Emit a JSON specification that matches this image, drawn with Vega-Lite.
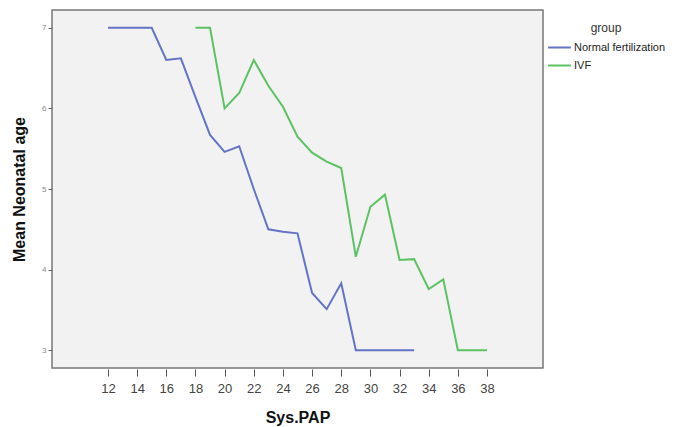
{
  "$schema": "https://vega.github.io/schema/vega-lite/v6.json",
  "autosize": "none",
  "width": 491,
  "height": 358,
  "padding": {"left": 52, "top": 10, "right": 145, "bottom": 59},
  "background": "white",
  "config": {
    "view": {"fill": "#F2F2F2", "stroke": "#777777", "strokeWidth": 1.5},
    "font": "Liberation Sans"
  },
  "data": {
    "values": [
      {"pap": 12, "age": 7.0, "group": "Normal fertilization"},
      {"pap": 13, "age": 7.0, "group": "Normal fertilization"},
      {"pap": 14, "age": 7.0, "group": "Normal fertilization"},
      {"pap": 15, "age": 7.0, "group": "Normal fertilization"},
      {"pap": 16, "age": 6.6, "group": "Normal fertilization"},
      {"pap": 17, "age": 6.62, "group": "Normal fertilization"},
      {"pap": 18, "age": 6.14, "group": "Normal fertilization"},
      {"pap": 19, "age": 5.67, "group": "Normal fertilization"},
      {"pap": 20, "age": 5.46, "group": "Normal fertilization"},
      {"pap": 21, "age": 5.53, "group": "Normal fertilization"},
      {"pap": 22, "age": 5.0, "group": "Normal fertilization"},
      {"pap": 23, "age": 4.5, "group": "Normal fertilization"},
      {"pap": 24, "age": 4.47, "group": "Normal fertilization"},
      {"pap": 25, "age": 4.45, "group": "Normal fertilization"},
      {"pap": 26, "age": 3.71, "group": "Normal fertilization"},
      {"pap": 27, "age": 3.51, "group": "Normal fertilization"},
      {"pap": 28, "age": 3.83, "group": "Normal fertilization"},
      {"pap": 29, "age": 3.0, "group": "Normal fertilization"},
      {"pap": 30, "age": 3.0, "group": "Normal fertilization"},
      {"pap": 31, "age": 3.0, "group": "Normal fertilization"},
      {"pap": 32, "age": 3.0, "group": "Normal fertilization"},
      {"pap": 33, "age": 3.0, "group": "Normal fertilization"},
      {"pap": 18, "age": 7.0, "group": "IVF"},
      {"pap": 19, "age": 7.0, "group": "IVF"},
      {"pap": 20, "age": 6.0, "group": "IVF"},
      {"pap": 21, "age": 6.19, "group": "IVF"},
      {"pap": 22, "age": 6.6, "group": "IVF"},
      {"pap": 23, "age": 6.28, "group": "IVF"},
      {"pap": 24, "age": 6.02, "group": "IVF"},
      {"pap": 25, "age": 5.65, "group": "IVF"},
      {"pap": 26, "age": 5.45, "group": "IVF"},
      {"pap": 27, "age": 5.34, "group": "IVF"},
      {"pap": 28, "age": 5.26, "group": "IVF"},
      {"pap": 29, "age": 4.16, "group": "IVF"},
      {"pap": 30, "age": 4.78, "group": "IVF"},
      {"pap": 31, "age": 4.93, "group": "IVF"},
      {"pap": 32, "age": 4.12, "group": "IVF"},
      {"pap": 33, "age": 4.13, "group": "IVF"},
      {"pap": 34, "age": 3.76, "group": "IVF"},
      {"pap": 35, "age": 3.88, "group": "IVF"},
      {"pap": 36, "age": 3.0, "group": "IVF"},
      {"pap": 37, "age": 3.0, "group": "IVF"},
      {"pap": 38, "age": 3.0, "group": "IVF"}
    ]
  },
  "mark": {"type": "line", "strokeWidth": 2, "clip": true},
  "encoding": {
    "x": {
      "field": "pap", "type": "quantitative",
      "scale": {"domain": [8.16, 41.84], "nice": false, "zero": false},
      "axis": {
        "title": "Sys.PAP", "values": [12,14,16,18,20,22,24,26,28,30,32,34,36,38],
        "grid": false, "domain": false, "tickColor": "#555555", "tickSize": 7, "offset": 1,
        "labelFontSize": 13, "labelColor": "#444444", "labelPadding": 6,
        "titleFontSize": 16, "titleFontWeight": "bold", "titleColor": "#111111", "titlePadding": 14
      }
    },
    "y": {
      "field": "age", "type": "quantitative",
      "scale": {"domain": [2.78, 7.22], "nice": false, "zero": false},
      "axis": {
        "title": "Mean Neonatal age", "values": [3,4,5,6,7], "format": "d",
        "grid": false, "domain": false, "tickColor": "#666666", "tickSize": 4,
        "labelFontSize": 8, "labelColor": "#888888", "labelPadding": 2,
        "titleFontSize": 16, "titleFontWeight": "bold", "titleColor": "#111111", "titlePadding": 14
      }
    },
    "color": {
      "field": "group", "type": "nominal",
      "scale": {"domain": ["Normal fertilization", "IVF"], "range": ["#6373C6", "#5CC263"]},
      "legend": {
        "orient": "none", "legendX": 495, "legendY": 13,
        "title": "group", "titleFontSize": 12, "titleFontWeight": "normal", "titleColor": "#333333",
        "titleOrient": "top", "titleAnchor": "middle", "titleAlign": "center", "titlePadding": 0,
        "symbolType": "stroke", "symbolSize": 520, "symbolStrokeWidth": 2,
        "labelFontSize": 11, "labelColor": "#222222", "labelOffset": 2, "rowPadding": -6
      }
    }
  }
}
